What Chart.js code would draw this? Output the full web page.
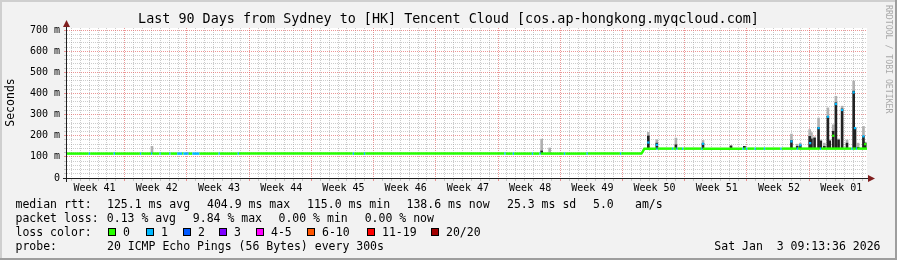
<!DOCTYPE html>
<html><head><meta charset="utf-8">
<script src="https://cdn.jsdelivr.net/npm/chart.js@4.4.1/dist/chart.umd.min.js"></script>
<style>html,body{margin:0;padding:0;background:#f2f2f2;}canvas{display:block;}</style>
</head><body>
<canvas id="c" width="897" height="260"></canvas>
<script>
// ---------- data ----------
const chartTitle = 'Last 90 Days from Sydney to [HK] Tencent Cloud [cos.ap-hongkong.myqcloud.com]';
const yAxisTitle = 'Seconds';
const watermark = 'RRDTOOL / TOBI OETIKER';
const weekLabels = ['Week 41','Week 42','Week 43','Week 44','Week 45','Week 46','Week 47','Week 48','Week 49','Week 50','Week 51','Week 52','Week 01'];
const weekLabelDays = [3.1, 10.1, 17.1, 24.1, 31.1, 38.1, 45.1, 52.1, 59.1, 66.1, 73.1, 80.1, 87.1];
const weekStartDays = [6.49, 13.49, 20.49, 27.49, 34.49, 41.49, 48.49, 55.49, 62.49, 69.49, 76.49, 83.49];
const yMajorTicks = [0, 100, 200, 300, 400, 500, 600, 700];
const yMax = 710;

// median rtt (ms) with loss class index per point
const medianDays = [0,2.45,2.6,5.25,5.4,8.2,8.35,9.45,9.6,10.4,10.55,11.5,11.65,12.4,12.95,13.1,13.58,13.68,14.1,14.9,17.05,17.2,19.2,19.35,32.15,32.3,33.4,33.55,49.2,49.35,50.15,50.3,52.3,52.45,53.15,53.3,55.9,56.05,58.45,58.6,62.2,62.35,64.62,64.78,64.95,66.3,66.45,68.05,68.2,68.55,68.7,69.2,69.35,71.35,71.5,76.0,76.15,76.4,76.55,77.35,77.5,78.4,78.55,80.25,80.4,82.1,82.25,84.7,84.85,88.25,88.4,88.75,88.9,90];
const medianVals = [115.5,115.5,115.5,115.5,115.5,115.5,115.5,115.5,115.5,115.5,115.5,115.5,115.5,115.5,115.5,115.5,115.5,115.5,115.5,115.5,115.5,115.5,115.5,115.5,115.5,115.5,115.5,115.5,115.5,115.5,115.5,115.5,115.5,115.5,115.5,115.5,115.5,115.5,115.5,115.5,115.5,115.5,115.5,126,139,139,139,139,139,139,139,139,139,139,139,139,139,139,139,139,139,139,139,139,139,139,139,139,139,139,139,139,139,139];
const medianLoss = [0,1,0,1,0,1,0,1,0,1,0,1,0,1,0,1,2,0,1,0,1,0,1,0,1,0,1,0,1,0,1,0,1,0,1,0,1,0,1,0,1,0,0,0,0,1,0,1,0,1,0,1,0,1,0,1,0,1,0,1,0,1,0,1,0,1,0,1,0,1,0,1,0,0];

// median values during spikes
const spikeMedDays = [65.4, 66.35, 71.55, 81.5, 82.5, 83.6, 84.55, 85.6, 86.2, 86.5, 87.2, 88.5, 88.65, 89.6, 89.8];
const spikeMedVals = [168, 157, 162, 173, 155, 165, 236, 290, 200, 350, 322, 405, 236, 197, 160];
const spikeMedLoss = [1, 1, 1, 1, 1, 1, 1, 1, 0, 1, 1, 1, 1, 1, 0];

// smoke (ping spread): base, dense top, sparse top (ms)
const smokeDays  = [9.56, 53.4, 54.3, 65.4, 66.35, 68.5, 71.55, 74.7, 76.2, 81.5, 82.15, 82.5, 83.55, 83.75, 84.1, 84.55, 84.8, 85.2, 85.6, 85.8, 86.2, 86.5, 86.8, 87.2, 87.75, 88.5, 88.65, 89.0, 89.6, 89.8];
const smokeBase  = [115, 115, 115, 139, 139, 139, 139, 139, 139, 139, 139, 139, 139, 139, 139, 139, 139, 139, 139, 139, 139, 139, 139, 139, 139, 139, 139, 139, 139, 139];
const smokeDense = [115, 128, 115, 199, 165, 157, 164, 152, 150, 177, 150, 155, 197, 185, 189, 240, 175, 150, 292, 175, 221, 356, 180, 327, 165, 411, 236, 145, 197, 165];
const smokeTop   = [150, 184, 142, 216, 181, 189, 178, 152, 150, 208, 160, 165, 229, 215, 195, 284, 180, 165, 332, 180, 252, 387, 185, 340, 180, 459, 240, 165, 244, 170];

// legend
const lossLabels = ['0','1','2','3','4-5','6-10','11-19','20/20'];
const lossColors = ['#26ff00','#00b8ff','#0059ff','#7e00ff','#ff00ff','#ff5500','#ff0000','#a10000'];
const rttHead = 'median rtt:';
const rttItems = ['125.1 ms avg','404.9 ms max','115.0 ms min','138.6 ms now','25.3 ms sd','5.0','am/s'];
const lossHead = 'packet loss:';
const lossItems = ['0.13 % avg','9.84 % max','0.00 % min','0.00 % now'];
const colorHead = 'loss color:';
const probeHead = 'probe:';
const probeText = '20 ICMP Echo Pings (56 Bytes) every 300s';
const stampText = 'Sat Jan  3 09:13:36 2026';

// ---------- styles / layout ----------
const FONT = '"DejaVu Sans Mono", monospace';
const GRID = 'rgba(143,143,143,0.45)';
const MGRID = 'rgba(222,80,80,0.6)';
const NONE = 'rgba(0,0,0,0)';
const rttX = [107, 207, 307, 406.5, 507, 593, 635];
const lossX = [106.8, 192.8, 278.5, 364.7];
const boxX = [108, 146, 183, 219, 256, 307, 367, 431];

const xKind = new Map();
const key = v => Math.round(v * 100);
function xTicks(scale) {
  xKind.clear();
  const vals = [];
  for (let i = 0; i < 90; i++) { const v = i + 0.49; xKind.set(key(v), 'minor'); }
  weekStartDays.forEach(v => xKind.set(key(v), 'major'));
  weekLabelDays.forEach((v, i) => xKind.set(key(v), 'label' + i));
  for (const k of xKind.keys()) vals.push(k / 100);
  vals.sort((a, b) => a - b);
  scale.ticks = vals.map(v => ({ value: v }));
}
function xColor(c) {
  if (!c.tick) return NONE;
  const k = xKind.get(key(c.tick.value));
  return k === 'major' ? MGRID : k === 'minor' ? GRID : NONE;
}
function yTicks(scale) {
  const vals = [];
  for (let v = 0; v <= 700; v += 20) vals.push(v);
  scale.ticks = vals.map(v => ({ value: v }));
}
function yColor(c) {
  if (!c.tick) return NONE;
  return yMajorTicks.includes(c.tick.value) ? MGRID : GRID;
}

const rrdPlugin = {
  id: 'rrd',
  beforeDraw(chart) {
    const ctx = chart.ctx, a = chart.chartArea, W = chart.width, H = chart.height;
    ctx.save();
    ctx.fillStyle = '#f2f2f2'; ctx.fillRect(0, 0, W, H);
    ctx.fillStyle = '#cfcfcf'; ctx.fillRect(0, 0, W, 2); ctx.fillRect(0, 0, 2, H);
    ctx.fillStyle = '#9e9e9e'; ctx.fillRect(0, H - 2, W, 2); ctx.fillRect(W - 2, 0, 2, H);
    ctx.fillStyle = '#ffffff'; ctx.fillRect(a.left, a.top, a.right - a.left, a.bottom - a.top);
    ctx.restore();
  },
  afterDraw(chart) {
    const ctx = chart.ctx, a = chart.chartArea;
    ctx.save();
    // axes
    ctx.strokeStyle = '#1f1f1f'; ctx.lineWidth = 1;
    ctx.beginPath();
    ctx.moveTo(63, a.bottom + 0.5); ctx.lineTo(a.right + 2, a.bottom + 0.5);
    ctx.moveTo(a.left - 0.5, a.bottom + 4); ctx.lineTo(a.left - 0.5, a.top - 2);
    ctx.stroke();
    ctx.fillStyle = '#801f1f';
    ctx.beginPath();
    ctx.moveTo(a.right + 1, a.bottom - 3); ctx.lineTo(a.right + 8, a.bottom + 0.5); ctx.lineTo(a.right + 1, a.bottom + 4);
    ctx.closePath(); ctx.fill();
    ctx.beginPath();
    ctx.moveTo(a.left - 4, a.top - 1); ctx.lineTo(a.left - 0.5, a.top - 8); ctx.lineTo(a.left + 3, a.top - 1);
    ctx.closePath(); ctx.fill();
    // title
    ctx.fillStyle = '#000';
    ctx.textBaseline = 'alphabetic';
    ctx.font = '13.4px ' + FONT; ctx.textAlign = 'center';
    ctx.fillText(chartTitle, 448.5, 23);
    // y title
    ctx.font = '11.5px ' + FONT;
    ctx.save(); ctx.translate(11, 102.5); ctx.rotate(-Math.PI / 2);
    ctx.textBaseline = 'middle'; ctx.fillText(yAxisTitle, 0, 0); ctx.restore();
    // watermark
    ctx.save(); ctx.translate(888, 5); ctx.rotate(Math.PI / 2);
    ctx.font = '8.2px ' + FONT; ctx.fillStyle = '#a9a9a9'; ctx.textAlign = 'left'; ctx.textBaseline = 'middle';
    ctx.fillText(watermark, 0, 0); ctx.restore();
    // legend
    ctx.font = '11.5px ' + FONT; ctx.textAlign = 'left'; ctx.textBaseline = 'alphabetic'; ctx.fillStyle = '#000';
    const r1 = 207.5, r2 = 221.5, r3 = 235.5, r4 = 249.5;
    ctx.fillText(rttHead, 15.5, r1);
    rttItems.forEach((t, i) => ctx.fillText(t, rttX[i], r1));
    ctx.fillText(lossHead, 15.5, r2);
    lossItems.forEach((t, i) => ctx.fillText(t, lossX[i], r2));
    ctx.fillText(colorHead, 15.5, r3);
    lossLabels.forEach((t, i) => {
      const bx = boxX[i], by = 228;
      ctx.fillStyle = lossColors[i]; ctx.fillRect(bx, by, 8, 8);
      ctx.strokeStyle = '#000'; ctx.lineWidth = 1; ctx.strokeRect(bx + 0.5, by + 0.5, 7, 7);
      ctx.fillStyle = '#000'; ctx.fillText(t, bx + 15, r3);
    });
    ctx.fillText(probeHead, 15.5, r4);
    ctx.fillText(probeText, 107, r4);
    ctx.textAlign = 'right'; ctx.fillText(stampText, 880.5, r4);
    ctx.restore();
  }
};

new Chart(document.getElementById('c'), {
  type: 'bar',
  data: {
    datasets: [
      {
        type: 'scatter', label: 'median (spikes)', order: 0,
        data: spikeMedDays.map((d, i) => ({ x: d, y: spikeMedVals[i] })),
        pointStyle: 'rect', pointRadius: 1.6, pointBorderWidth: 0,
        pointBackgroundColor: c => lossColors[spikeMedLoss[c.dataIndex]], showLine: false
      },
      {
        type: 'line', label: 'median rtt', order: 1,
        data: medianDays.map((d, i) => ({ x: d, y: medianVals[i] })),
        borderWidth: 2.5, pointRadius: 0, tension: 0, fill: false,
        borderColor: lossColors[0], borderCapStyle: 'butt',
        segment: { borderColor: c => lossColors[medianLoss[c.p0DataIndex]] }
      },
      {
        type: 'bar', label: 'smoke dense', order: 2, grouped: false,
        data: smokeDays.map((d, i) => ({ x: d, y: [smokeBase[i], smokeDense[i]] })),
        backgroundColor: '#222222', borderWidth: 0, barThickness: 2
      },
      {
        type: 'bar', label: 'smoke sparse', order: 3, grouped: false,
        data: smokeDays.map((d, i) => ({ x: d, y: [smokeDense[i], smokeTop[i]] })),
        backgroundColor: '#b0b0b0', borderWidth: 0, barThickness: 2
      }
    ]
  },
  options: {
    responsive: false, animation: false, devicePixelRatio: 1, events: [],
    layout: { padding: { top: 28, right: 30, left: 0, bottom: 0 } },
    plugins: { legend: { display: false }, tooltip: { enabled: false }, title: { display: false } },
    scales: {
      x: {
        type: 'linear', min: 0, max: 90, offset: false,
        afterBuildTicks: xTicks,
        afterFit: s => { s.height = 82; },
        grid: { color: xColor, tickColor: xColor, lineWidth: 1, tickLength: 3, tickBorderDash: [], offset: false },
        border: { display: false, dash: [1, 1] },
        ticks: {
          autoSkip: false, maxRotation: 0, minRotation: 0, padding: 1, color: '#000',
          font: { family: 'DejaVu Sans Mono', size: 10 },
          callback: v => { const k = xKind.get(key(v)); return (k && k.startsWith('label')) ? weekLabels[+k.slice(5)] : ''; }
        }
      },
      y: {
        type: 'linear', min: 0, max: yMax,
        afterBuildTicks: yTicks,
        afterFit: s => { s.width = 67; },
        grid: { color: yColor, tickColor: yColor, lineWidth: 1, tickLength: 3, tickBorderDash: [] },
        border: { display: false, dash: [1, 1] },
        ticks: {
          autoSkip: false, padding: 4, color: '#000',
          font: { family: 'DejaVu Sans Mono', size: 10 },
          callback: v => yMajorTicks.includes(v) ? (v === 0 ? '0' : v + ' m') : ''
        }
      }
    }
  },
  plugins: [rrdPlugin]
});
</script>
</body></html>
